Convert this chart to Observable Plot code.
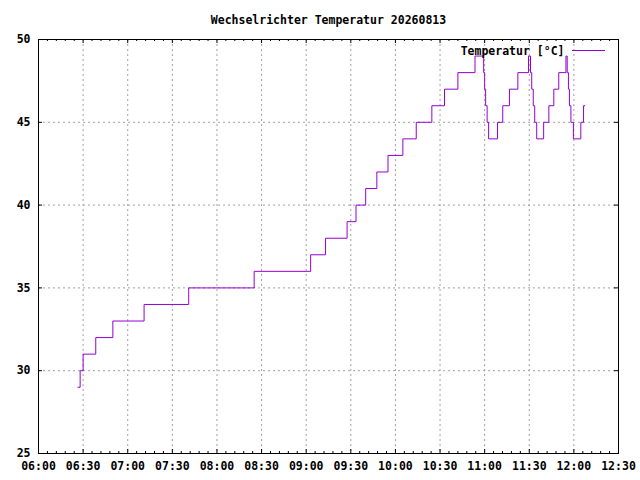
<!DOCTYPE html>
<html><head><meta charset="utf-8">
<script src="https://cdn.jsdelivr.net/npm/d3@7"></script>
<script src="https://cdn.jsdelivr.net/npm/@observablehq/plot@0.6"></script>
<style>
body{margin:0;background:#fff;}
#title{height:30px;width:640px;box-sizing:border-box;padding-left:17px;text-align:center;font:bold 11.5px "DejaVu Sans Mono",monospace;line-height:40px;white-space:nowrap;}
#chart svg{display:block;}
</style></head><body>
<div id="title">Wechselrichter Temperatur 20260813</div>
<div id="chart"></div>
<script>
const day = "2026-08-13";
const times = [
  "06:26:30","06:28:00","06:30:00","06:38:30","06:50:00","07:11:00","07:41:00","08:25:00",
  "09:03:00","09:13:00","09:27:30","09:33:30","09:40:00","09:47:30","09:55:00","10:05:00",
  "10:14:00","10:24:30","10:33:00","10:42:00","10:53:30","10:59:20","11:00:00","11:00:40",
  "11:01:40","11:02:40","11:08:40","11:12:10","11:16:40","11:22:20","11:29:30","11:30:50",
  "11:31:40","11:32:40","11:33:40","11:35:00","11:39:40","11:43:10","11:46:30","11:49:50",
  "11:54:40","11:55:30","11:56:20","11:57:00","11:58:00","11:59:40","12:04:40","12:06:30",
  "12:07:30"
];
const temps = [
  29,30,31,32,33,34,35,36,
  37,38,39,40,41,42,43,44,
  45,46,47,48,49,48,47,46,
  45,44,45,46,47,48,49,48,
  47,46,45,44,45,46,47,48,
  49,48,47,46,45,44,45,46,
  46
];
const xTickLabels = ["06:00","06:30","07:00","07:30","08:00","08:30","09:00","09:30","10:00","10:30","11:00","11:30","12:00","12:30"];
const yTickValues = [25,30,35,40,45,50];
const seriesName = "Temperatur [°C]";
const titleText = "Wechselrichter Temperatur 20260813";

document.getElementById("title").textContent = titleText;

const toDate = s => new Date(`${day}T${s.length === 5 ? s + ":00" : s}Z`);
const data = times.map((t, i) => ({t: toDate(t), v: temps[i]}));
const xTicks = xTickLabels.map(toDate);
const xDomain = [xTicks[0], xTicks[xTicks.length - 1]];
const minorTicks = d3.utcMinute.every(6).range(xDomain[0], xDomain[1]).filter(d => d.getUTCMinutes() % 30 !== 0);
const yDomain = [yTickValues[0], yTickValues[yTickValues.length - 1]];

const W = 640, H = 450, mL = 38, mR = 22, mT = 9, mB = 27;
const pw = W - mL - mR, ph = H - mT - mB;
const gridStyle = {stroke: "#a0a0a0", strokeDasharray: "2,3", strokeWidth: 1};

const plot = Plot.plot({
  width: W, height: H,
  marginLeft: mL, marginRight: mR, marginTop: mT, marginBottom: mB,
  style: {fontFamily: "'DejaVu Sans Mono', monospace", fontSize: "11.5px", fontWeight: "bold", background: "#fff", color: "#000"},
  x: {type: "utc", domain: xDomain},
  y: {domain: yDomain},
  marks: [
    Plot.ruleX(xTicks.slice(1, -1), gridStyle),
    Plot.ruleY(yTickValues.slice(1, -1), gridStyle),
    // major ticks x bottom/top
    Plot.ruleX(xTicks, {insetTop: ph - 4, stroke: "#000"}),
    Plot.ruleX(xTicks, {insetBottom: ph - 4, stroke: "#000"}),
    // minor ticks
    Plot.ruleX(minorTicks, {insetTop: ph - 2, stroke: "#000"}),
    Plot.ruleX(minorTicks, {insetBottom: ph - 2, stroke: "#000"}),
    // y ticks left/right
    Plot.ruleY(yTickValues, {insetRight: pw - 4, stroke: "#000"}),
    Plot.ruleY(yTickValues, {insetLeft: pw - 4, stroke: "#000"}),
    Plot.line(data, {x: "t", y: "v", curve: "step-after", stroke: "#9400d3", strokeWidth: 1}),
    Plot.frame({stroke: "#000"}),
    Plot.axisX(xTicks, {anchor: "bottom", tickSize: 0, tickPadding: 8, tickFormat: d3.utcFormat("%H:%M"), label: null}),
    Plot.axisY(yTickValues, {anchor: "left", tickSize: 0, tickPadding: 8, label: null}),
    Plot.text([seriesName], {frameAnchor: "top-right", dx: -54, dy: 11.5, textAnchor: "end", lineAnchor: "middle", fill: "#000"})
  ]
});

const svg = d3.select(plot);
svg.append("line")
  .attr("x1", 572).attr("x2", 605)
  .attr("y1", mT + 11.5).attr("y2", mT + 11.5)
  .attr("stroke", "#9400d3").attr("stroke-width", 1);

document.getElementById("chart").appendChild(plot);
</script>
</body></html>
